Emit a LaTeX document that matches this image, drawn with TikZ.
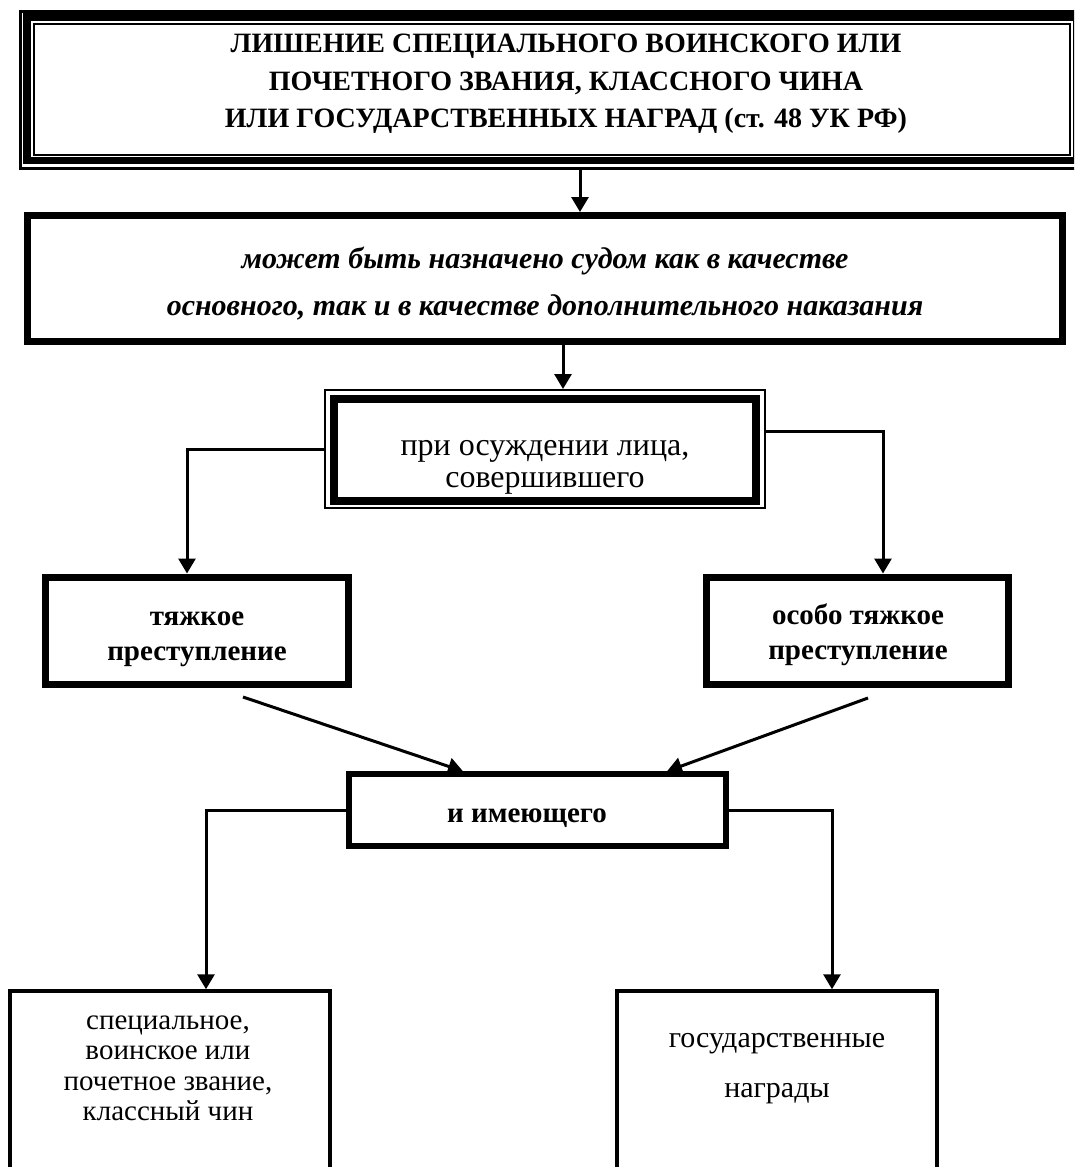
\documentclass[tikz,border=0pt]{standalone}
\usepackage{fontspec}
\setmainfont{Liberation Serif}
\usetikzlibrary{arrows.meta}
\begin{document}
\begin{tikzpicture}[x=1pt,y=-1pt]
\tikzset{
  bx/.style={draw,inner sep=0pt},
  conn/.style={line width=3pt},
  arr/.style={conn,-{Triangle[length=15pt,width=17pt]}},
  tx/.style={align=center,inner sep=0pt},
  ttl/.style={tx,font=\fontsize{28}{37.5}\selectfont\bfseries},
  itl/.style={tx,font=\fontsize{30}{47}\selectfont\bfseries\itshape},
  reg/.style={tx,font=\fontsize{32}{32}\selectfont},
  bld/.style={tx,font=\fontsize{29}{35}\selectfont\bfseries}
}
\useasboundingbox (0,0) rectangle (1074,1167);
\clip (0,0) rectangle (1074,1167);
% top box (triple border)
\node[bx,line width=3pt,minimum width=1064pt,minimum height=157pt] (tout) at (552,89.5) {};
\node[bx,line width=7.5pt,minimum width=1050pt,minimum height=143.5pt] (tmid) at (552,88.75) {};
\node[bx,line width=2.5pt,minimum width=1036pt,minimum height=131pt] (t) at (552,89.5) {};
\node[ttl] (ttext) at (566,84) {ЛИШЕНИЕ СПЕЦИАЛЬНОГО ВОИНСКОГО ИЛИ\\ПОЧЕТНОГО ЗВАНИЯ, КЛАССНОГО ЧИНА\\ИЛИ ГОСУДАРСТВЕННЫХ НАГРАД (ст. 48 УК РФ)};
% box 2
\node[bx,line width=7pt,minimum width=1035pt,minimum height=126pt] (b2) at (545,278.5) {};
\node[itl] (b2text) at (545,284) {может быть назначено судом как в качестве\\основного, так и в качестве дополнительного наказания};
% box 3 (double border)
\node[bx,line width=2pt,minimum width=440pt,minimum height=118pt] (b3o) at (545,449) {};
\node[bx,line width=8pt,minimum width=422.5pt,minimum height=102pt] (b3) at (544.75,450) {};
\node[reg] (b3text) at (545,467) {при осуждении лица,\\совершившего};
% box 4, 5
\node[bx,line width=7pt,minimum width=303pt,minimum height=107pt] (b4) at (197,630.5) {};
\node[bld] (b4text) at (197,639) {тяжкое\\преступление};
\node[bx,line width=7pt,minimum width=302pt,minimum height=107pt] (b5) at (857.5,630.5) {};
\node[bld] (b5text) at (858,635) {особо тяжкое\\преступление};
% box 6
\node[bx,line width=6pt,minimum width=377pt,minimum height=71.5pt] (b6) at (537.5,810) {};
\node[bld] (b6text) at (527,818) {и имеющего};
% bottom boxes
\node[bx,line width=3.5pt,minimum width=320pt,minimum height=188pt] (b7) at (170,1085) {};
\node[reg,font=\fontsize{29}{30.5}\selectfont] (b7text) at (168,1068.5) {специальное,\\воинское или\\почетное звание,\\классный чин};
\node[bx,line width=3.5pt,minimum width=320pt,minimum height=188pt] (b8) at (777,1085) {};
\node[reg,font=\fontsize{30}{50}\selectfont] (b8text) at (777,1069) {государственные\\награды};
% coordinates for connector columns
\coordinate (c1) at (580,0);
\coordinate (c2) at (563,0);
\coordinate (c3) at (187,0);
\coordinate (c4) at (883,0);
\coordinate (c5) at (206,0);
\coordinate (c6) at (832,0);
\coordinate (d1) at (243,697);
\coordinate (d1e) at (463,0);
\coordinate (d2) at (868,698);
\coordinate (d2e) at (667,0);
% connectors
\draw[arr] (tout.south -| c1) -- (b2.north -| c1);
\draw[arr] (b2.south -| c2) -- (b3o.north -| c2);
\draw[arr] (b3o.west) -- (b3o.west -| c3) -- (b4.north -| c3);
\draw[arr] ([yshift=18pt]b3o.east) -- ([yshift=18pt]b3o.east -| c4) -- (b5.north -| c4);
\draw[arr] (d1) -- (b6.north -| d1e);
\draw[arr] (d2) -- (b6.north -| d2e);
\draw[arr] (b6.west) -- (b6.west -| c5) -- (b7.north -| c5);
\draw[arr] (b6.east) -- (b6.east -| c6) -- (b8.north -| c6);
\end{tikzpicture}
\end{document}
